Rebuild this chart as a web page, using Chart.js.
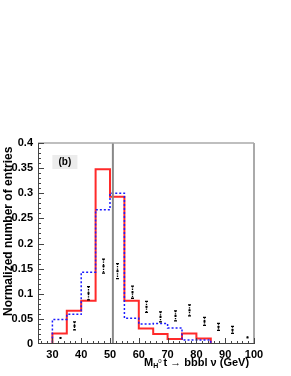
<!DOCTYPE html>
<html>
<head>
<meta charset="UTF-8">
<title>Normalized number of entries</title>
<script src="https://cdn.jsdelivr.net/npm/chart.js"></script>
<style>
  html, body { margin: 0; padding: 0; background: #fff; }
  #wrap { width: 291px; height: 376px; }
</style>
</head>
<body>
<div id="wrap"><canvas id="c" width="291" height="376"></canvas></div>
<script>
// bin edges (GeV) and contents
const binEdges = [25, 30, 35, 40, 45, 50, 55, 60, 65, 70, 75, 80, 85, 90, 95, 100];
const redHist  = [0, 0.021, 0.066, 0.086, 0.348, 0.293, 0.086, 0.031, 0.020, 0.010, 0.021, 0.011, 0, 0, 0];
const blueHist = [0, 0.049, 0.059, 0.143, 0.267, 0.300, 0.051, 0.040, 0.041, 0.032, 0.008, 0.008, 0, 0, 0];

// black points with errors at bin centres
const pointX   = [32.5, 37.5, 42.5, 47.5, 52.5, 57.5, 62.5, 67.5, 72.5, 77.5, 82.5, 87.5, 92.5, 97.5];
const pointY   = [0.012, 0.036, 0.101, 0.155, 0.145, 0.103, 0.074, 0.054, 0.056, 0.067, 0.045, 0.034, 0.028, 0.013];
const pointErr = [0.002, 0.008, 0.013, 0.014, 0.015, 0.012, 0.011, 0.010, 0.010, 0.011, 0.008, 0.007, 0.007, 0.002];

const cutValue = 51;
const xTicks = [30, 40, 50, 60, 70, 80, 90, 100];
const yTicks = [0, 0.05, 0.1, 0.15, 0.2, 0.25, 0.3, 0.35, 0.4];

// histogram -> step points, bin i starts at edge i
function histPoints(vals) {
  const pts = vals.map((v, i) => ({ x: binEdges[i], y: v }));
  pts.push({ x: binEdges[binEdges.length - 1], y: vals[vals.length - 1] });
  return pts;
}

const FONT = 'Liberation Sans, Arial, sans-serif';

// frame, inward ticks, error bars, label box and axis titles
const decor = {
  id: 'decor',
  beforeDatasetsDraw(chart) {
    const { ctx, chartArea: a } = chart;
    const xs = chart.scales.x;
    // (b) label box
    const bx = xs.getPixelForValue(30), by = a.top + 12;
    ctx.save();
    ctx.fillStyle = '#ececec';
    ctx.fillRect(bx, by, 25, 14);
    ctx.fillStyle = '#000';
    ctx.font = 'bold 10px ' + FONT;
    ctx.textBaseline = 'middle';
    ctx.textAlign = 'center';
    ctx.fillText('(b)', bx + 12.5, by + 7.5);
    ctx.restore();
  },
  afterDatasetsDraw(chart) {
    const { ctx, chartArea: a } = chart;
    const xs = chart.scales.x, ys = chart.scales.y;
    ctx.save();
    // error bars
    ctx.strokeStyle = '#000';
    ctx.lineWidth = 1.3;
    pointX.forEach((xv, i) => {
      const px = Math.round(xs.getPixelForValue(xv)) + 0.5;
      const top = ys.getPixelForValue(pointY[i] + pointErr[i]);
      const bot = ys.getPixelForValue(pointY[i] - pointErr[i]);
      ctx.setLineDash([1.3, 1.1]);
      ctx.beginPath(); ctx.moveTo(px, top); ctx.lineTo(px, bot); ctx.stroke();
      ctx.setLineDash([]);
      if (pointErr[i] > 0.004) {
        ctx.beginPath();
        ctx.moveTo(px - 1.5, top); ctx.lineTo(px + 1.5, top);
        ctx.moveTo(px - 1.5, bot); ctx.lineTo(px + 1.5, bot);
        ctx.stroke();
      }
      ctx.fillStyle = '#000';
      ctx.fillRect(px - 1, ys.getPixelForValue(pointY[i]) - 1, 2, 2);
    });

    // frame
    ctx.strokeStyle = '#aaa';
    ctx.lineWidth = 1.5;
    ctx.beginPath();
    ctx.moveTo(a.left, a.top); ctx.lineTo(a.right, a.top);
    ctx.stroke();
    ctx.lineWidth = 2;
    ctx.beginPath();
    ctx.moveTo(a.right, a.top); ctx.lineTo(a.right, a.bottom);
    ctx.stroke();
    ctx.strokeStyle = '#444';
    ctx.lineWidth = 1;
    ctx.beginPath();
    ctx.moveTo(a.left + 0.5, a.top); ctx.lineTo(a.left + 0.5, a.bottom);
    ctx.moveTo(a.left, a.bottom - 0.5); ctx.lineTo(a.right, a.bottom - 0.5);
    ctx.stroke();

    // inward ticks
    ctx.beginPath();
    for (let v = 26; v <= 100; v += 2) {
      const px = Math.round(xs.getPixelForValue(v)) + 0.5;
      const len = v % 10 === 0 ? 6 : 3;
      ctx.moveTo(px, a.bottom); ctx.lineTo(px, a.bottom - len);
    }
    for (let k = 1; k <= 40; k++) {
      const py = Math.round(ys.getPixelForValue(k / 100)) + 0.5;
      const len = k % 5 === 0 ? 6 : 3;
      ctx.moveTo(a.left, py); ctx.lineTo(a.left + len, py);
    }
    ctx.stroke();

    // y axis title, reading upwards from the bottom
    ctx.fillStyle = '#000';
    ctx.save();
    ctx.translate(12, 316);
    ctx.rotate(-Math.PI / 2);
    ctx.font = 'bold 12px ' + FONT;
    ctx.textAlign = 'left';
    ctx.textBaseline = 'alphabetic';
    ctx.fillText('Normalized number of entries', 0, 0);
    ctx.restore();

    // x axis title with sub/superscript
    ctx.textBaseline = 'alphabetic';
    ctx.textAlign = 'left';
    let x = 144;
    const base = 366;
    ctx.font = 'bold 11px ' + FONT;
    ctx.fillText('M', x, base); x += ctx.measureText('M').width;
    ctx.font = 'bold 7px ' + FONT;
    ctx.fillText('H', x, base + 2); x += ctx.measureText('H').width;
    ctx.font = '6px ' + FONT;
    ctx.fillText('0', x, base - 3); x += ctx.measureText('0').width + 2;
    ctx.font = 'bold 11px ' + FONT;
    ctx.fillText('t \u2192 bbbl \u03BD (GeV)', x, base);
    ctx.restore();
  }
};

new Chart(document.getElementById('c'), {
  type: 'line',
  data: {
    datasets: [
      {
        label: 'cut',
        data: [{ x: cutValue, y: 0 }, { x: cutValue, y: 0.4 }],
        borderColor: '#888', borderWidth: 2, pointRadius: 0
      },
      {
        label: 'blue',
        data: histPoints(blueHist),
        stepped: 'before',
        borderColor: '#1a1aff', borderWidth: 1.5, borderDash: [2, 2],
        pointRadius: 0
      },
      {
        label: 'red',
        data: histPoints(redHist),
        stepped: 'before',
        borderColor: '#ff2a2a', borderWidth: 2, pointRadius: 0
      }
    ]
  },
  options: {
    responsive: false,
    animation: false,
    layout: { padding: { left: 0, right: 37, top: 143, bottom: 0 } },
    plugins: { legend: { display: false }, tooltip: { enabled: false } },
    scales: {
      x: {
        type: 'linear', min: 25, max: 100,
        grid: { display: false, drawTicks: false }, border: { display: false },
        afterBuildTicks: s => { s.ticks = xTicks.map(v => ({ value: v })); },
        afterFit: s => { s.height = 32; },
        ticks: { color: '#000', padding: 4, maxRotation: 0, autoSkip: false,
                 font: { family: FONT, size: 11, weight: 'bold' } }
      },
      y: {
        type: 'linear', min: 0, max: 0.4,
        grid: { display: false, drawTicks: false }, border: { display: false },
        afterBuildTicks: s => { s.ticks = yTicks.map(v => ({ value: v })); },
        afterFit: s => { s.width = 38; },
        ticks: { color: '#000', padding: 5, autoSkip: false,
                 font: { family: FONT, size: 11, weight: 'bold' },
                 callback: v => String(+v.toFixed(2)) }
      }
    }
  },
  plugins: [decor]
});
</script>
</body>
</html>
